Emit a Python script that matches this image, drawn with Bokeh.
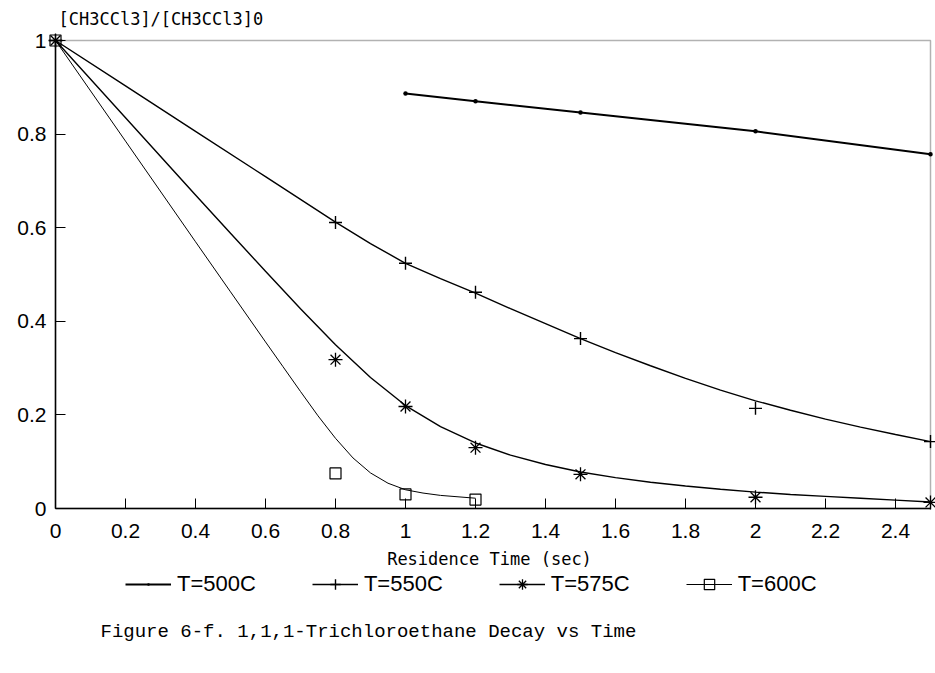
from bokeh.plotting import figure
from bokeh.models import Range1d, FixedTicker, Label, Legend, LegendItem, BoxAnnotation
from bokeh.embed import file_html
from bokeh.resources import INLINE

# ---- measured data points ----
t500 = [1.0, 1.2, 1.5, 2.0, 2.5]
c500 = [0.887, 0.870, 0.846, 0.806, 0.757]
t550 = [0.0, 0.8, 1.0, 1.2, 1.5, 2.0, 2.5]
c550 = [1.0, 0.611, 0.524, 0.462, 0.363, 0.214, 0.143]
t575 = [0.0, 0.8, 1.0, 1.2, 1.5, 2.0, 2.5]
c575 = [1.0, 0.318, 0.218, 0.130, 0.073, 0.024, 0.013]
t600 = [0.0, 0.8, 1.0, 1.2]
c600 = [1.0, 0.075, 0.030, 0.019]

# ---- fitted curves ----
f500_t = [1.0, 1.2, 1.5, 2.0, 2.5]
f500_c = [0.887, 0.870, 0.846, 0.806, 0.757]
f550_t = [0.0, 0.2, 0.4, 0.6, 0.8, 0.9, 1.0, 1.1, 1.2, 1.3, 1.4, 1.5, 1.6, 1.7, 1.8,
          1.9, 2.0, 2.1, 2.2, 2.3, 2.4, 2.5]
f550_c = [1.0, 0.903, 0.806, 0.709, 0.612, 0.566, 0.524, 0.491, 0.460, 0.427, 0.395,
          0.363, 0.333, 0.305, 0.278, 0.253, 0.230, 0.210, 0.191, 0.174, 0.158, 0.143]
f575_t = [0.0, 0.2, 0.4, 0.5, 0.6, 0.7, 0.8, 0.9, 1.0, 1.1, 1.2, 1.3, 1.4, 1.5, 1.6,
          1.7, 1.8, 1.9, 2.0, 2.1, 2.2, 2.3, 2.4, 2.5]
f575_c = [1.0, 0.835, 0.67, 0.588, 0.507, 0.427, 0.35, 0.28, 0.22, 0.175, 0.14, 0.114,
          0.094, 0.078, 0.066, 0.056, 0.048, 0.041, 0.035, 0.030, 0.026, 0.022, 0.018, 0.014]
f600_t = [0.0, 0.2, 0.4, 0.5, 0.6, 0.65, 0.7, 0.75, 0.8, 0.85, 0.9, 0.95, 1.0, 1.05,
          1.1, 1.15, 1.2]
f600_c = [1.0, 0.785, 0.57, 0.463, 0.356, 0.303, 0.25, 0.198, 0.15, 0.108, 0.076, 0.054,
          0.04, 0.033, 0.028, 0.025, 0.022]

series_names = ["T=500C", "T=550C", "T=575C", "T=600C"]

x_ticks = [0, 0.2, 0.4, 0.6, 0.8, 1.0, 1.2, 1.4, 1.6, 1.8, 2.0, 2.2, 2.4]
x_tick_labels = ["0", "0.2", "0.4", "0.6", "0.8", "1", "1.2", "1.4", "1.6", "1.8", "2", "2.2", "2.4"]
y_ticks = [0, 0.2, 0.4, 0.6, 0.8, 1.0]
y_tick_labels = ["0", "0.2", "0.4", "0.6", "0.8", "1"]

y_title = "[CH3CCl3]/[CH3CCl3]0"
x_title = "Residence Time (sec)"
caption = "Figure 6-f. 1,1,1-Trichloroethane Decay vs Time"

# The frame spans the whole canvas, so that texts around the chart box are not clipped;
# the axes are pinned to x=0 and y=0.
PX_PER_X = 350.0
PX_PER_Y = 468.0
LEFT_PX, TOP_PX, BOTTOM_PX = 55, 40, 508
p = figure(width=935, height=673, output_backend="svg", toolbar_location=None,
           x_range=Range1d(-LEFT_PX / PX_PER_X, (935 - LEFT_PX) / PX_PER_X),
           y_range=Range1d(-(673 - BOTTOM_PX) / PX_PER_Y, 1 + TOP_PX / PX_PER_Y),
           min_border_left=0, min_border_right=0, min_border_top=0, min_border_bottom=0)
p.background_fill_color = "white"
p.border_fill_color = "white"
p.outline_line_color = None
p.grid.visible = False

TICK_FONT = "Liberation Sans"
for ax in (p.xaxis[0], p.yaxis[0]):
    ax.axis_line_color = "black"
    ax.axis_line_width = 1.5
    ax.major_tick_in = 10
    ax.major_tick_out = 0
    ax.minor_tick_line_color = None
    ax.major_label_text_font = TICK_FONT
    ax.major_label_text_font_size = "21px"
    ax.major_label_text_color = "black"

p.xaxis.fixed_location = 0
p.xaxis.bounds = (0, 2.5)
p.xaxis.ticker = FixedTicker(ticks=x_ticks)
p.xaxis.major_label_overrides = {t: s for t, s in zip(x_ticks, x_tick_labels)}
p.xaxis.major_label_standoff = 15
p.yaxis.fixed_location = 0
p.yaxis.bounds = (0, 1)
p.yaxis.ticker = FixedTicker(ticks=y_ticks)
p.yaxis.major_label_overrides = {t: s for t, s in zip(y_ticks, y_tick_labels)}
p.yaxis.major_label_standoff = 9

# chart box (top and right border)
p.add_layout(BoxAnnotation(left=0, right=2.5, bottom=0, top=1, fill_alpha=0,
                           line_color="black", line_width=1.5))

# curves
l500 = p.line(f500_t, f500_c, line_color="black", line_width=2)
l550 = p.line(f550_t, f550_c, line_color="black", line_width=1.4)
l575 = p.line(f575_t, f575_c, line_color="black", line_width=1.4)
l600 = p.line(f600_t, f600_c, line_color="black", line_width=1.0)

# markers
m500 = p.scatter(t500, c500, marker="dot", size=18, line_color="black", fill_color="black")
m550 = p.scatter(t550, c550, marker="cross", size=13, line_color="black", line_width=1.4)
m575 = p.scatter(t575, c575, marker="asterisk", size=14, line_color="black", line_width=1.3)
m600 = p.scatter(t600, c600, marker="square", size=11, line_color="black", line_width=1.2,
                 fill_color=None)

legend = Legend(items=[
    LegendItem(label=series_names[0], renderers=[l500, m500]),
    LegendItem(label=series_names[1], renderers=[l550, m550]),
    LegendItem(label=series_names[2], renderers=[l575, m575]),
    LegendItem(label=series_names[3], renderers=[l600, m600]),
], location=(125, 76), orientation="horizontal")
legend.glyph_width = 46
legend.glyph_height = 26
legend.label_standoff = 6
legend.spacing = 56
legend.padding = 0
legend.margin = 0
legend.border_line_color = None
legend.background_fill_alpha = 0
legend.label_text_font = TICK_FONT
legend.label_text_font_size = "22px"
legend.label_text_color = "black"
p.add_layout(legend, "center")

p.add_layout(Label(x=58, y=655, x_units="screen", y_units="screen", text=y_title,
                   text_font="DejaVu Sans Mono", text_font_size="17px",
                   text_align="left", text_baseline="middle", text_color="black"))
p.add_layout(Label(x=489, y=115, x_units="screen", y_units="screen", text=x_title,
                   text_font="DejaVu Sans Mono", text_font_size="17px",
                   text_align="center", text_baseline="middle", text_color="black"))
p.add_layout(Label(x=100, y=42, x_units="screen", y_units="screen", text=caption,
                   text_font="Liberation Mono", text_font_size="19px",
                   text_align="left", text_baseline="middle", text_color="black"))

open("out.html", "w").write(file_html(p, INLINE))
